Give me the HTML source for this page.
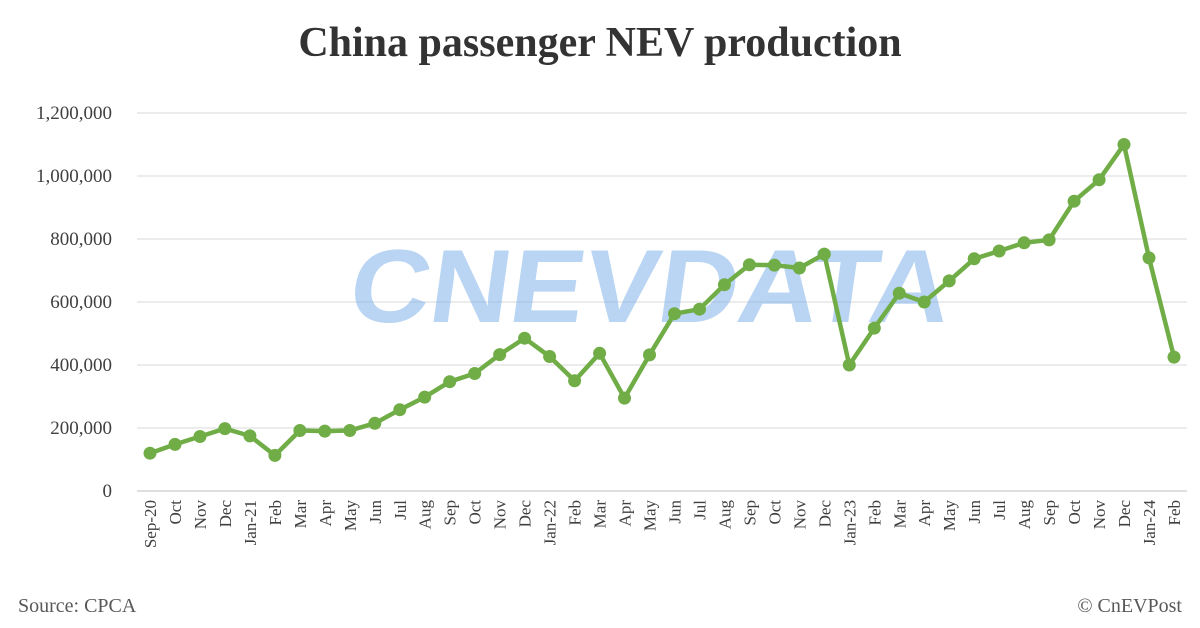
<!DOCTYPE html>
<html><head><meta charset="utf-8"><style>
html,body{margin:0;padding:0;background:#fff;}
svg{display:block;font-family:"Liberation Serif",serif;}
</style></head><body>
<svg id="c" width="1200" height="628" viewBox="0 0 1200 628" xmlns="http://www.w3.org/2000/svg">
<rect x="0" y="0" width="1200" height="628" fill="#fff"/>
<text x="600" y="56" text-anchor="middle" font-size="42" font-weight="bold" fill="#333">China passenger NEV production</text>
<g id="grid"></g>
<g transform="translate(646,322) skewX(-8)"><text x="0" y="0" text-anchor="middle" font-family="Liberation Sans,sans-serif" font-size="104" font-weight="bold" fill="#7fb2ea" fill-opacity="0.55" textLength="600" lengthAdjust="spacingAndGlyphs">CNEVDATA</text></g>
<g id="series"></g>
<text x="18" y="612" font-size="20" fill="#595959">Source: CPCA</text>
<text x="1182" y="612" text-anchor="end" font-size="20" fill="#595959">© CnEVPost</text>
</svg>
<script>
var vals=[120,148,173,198,175,113,192,190,192,215,258,298,347,373,433,485,427,350,437,295,432,563,577,655,718,717,708,752,400,517,628,600,667,737,762,788,797,920,988,1100,740,425];
var labs=["Sep-20","Oct","Nov","Dec","Jan-21","Feb","Mar","Apr","May","Jun","Jul","Aug","Sep","Oct","Nov","Dec","Jan-22","Feb","Mar","Apr","May","Jun","Jul","Aug","Sep","Oct","Nov","Dec","Jan-23","Feb","Mar","Apr","May","Jun","Jul","Aug","Sep","Oct","Nov","Dec","Jan-24","Feb"];
var ns="http://www.w3.org/2000/svg";
function el(t,a,p,txt){var e=document.createElementNS(ns,t);for(var k in a)e.setAttribute(k,a[k]);if(txt!=null)e.textContent=txt;p.appendChild(e);return e;}
var g=document.getElementById('grid'),s=document.getElementById('series');
var y0=491,step=63;
var ylab=["0","200,000","400,000","600,000","800,000","1,000,000","1,200,000"];
for(var i=0;i<=6;i++){var y=y0-i*step;
 el('line',{x1:137,x2:1187,y1:y,y2:y,stroke:i==0?'#bfbfbf':'#d9d9d9','stroke-width':1},g);
 el('text',{x:112,y:y+6,'text-anchor':'end','font-size':19,fill:'#404040'},g,ylab[i]);}
var x0=150,dx=(1174-150)/41;
var pts=[];
for(var i=0;i<vals.length;i++){var x=x0+i*dx,y=y0-vals[i]/200*step;pts.push(x.toFixed(1)+','+y.toFixed(1));
 el('text',{x:0,y:0,'text-anchor':'end','font-size':17,fill:'#404040',transform:'translate('+(x+6)+',500) rotate(-90)'},g,labs[i]);}
el('polyline',{points:pts.join(' '),fill:'none',stroke:'#70ad47','stroke-width':4.5,'stroke-linejoin':'round'},s);
for(var i=0;i<vals.length;i++){var p=pts[i].split(',');el('circle',{cx:p[0],cy:p[1],r:6.5,fill:'#70ad47'},s);}
</script>
</body></html>
